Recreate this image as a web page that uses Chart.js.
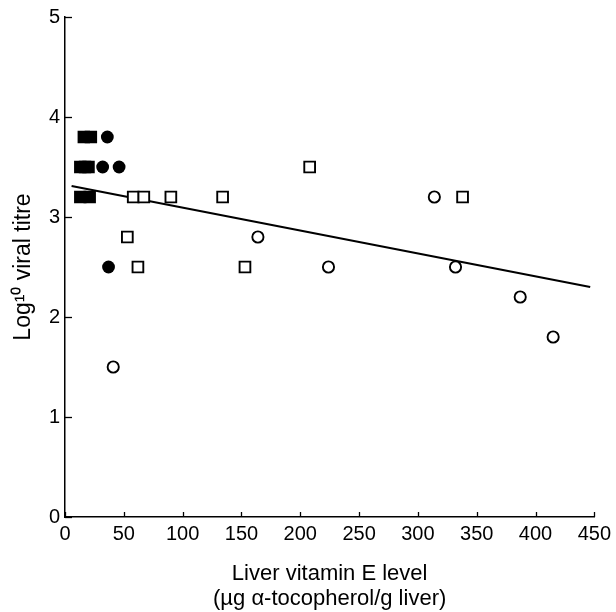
<!DOCTYPE html>
<html>
<head>
<meta charset="utf-8">
<script src="https://cdn.jsdelivr.net/npm/chart.js@4.4.1/dist/chart.umd.min.js"></script>
<style>
  html, body { margin: 0; padding: 0; background: #fff; }
  #wrap { width: 616px; height: 612px; position: relative; }
</style>
</head>
<body>
<div id="wrap"><canvas id="c" width="616" height="612"></canvas></div>
<script>
// ---- Data ----
const filledSquareX = [16, 22, 13, 17, 20, 13, 21];
const filledSquareY = [3.8, 3.8, 3.5, 3.5, 3.5, 3.2, 3.2];
const filledCircleX = [36, 32, 46, 37];
const filledCircleY = [3.8, 3.5, 3.5, 2.5];
const openSquareX = [58, 67, 90, 53, 62, 134, 153, 208, 338];
const openSquareY = [3.2, 3.2, 3.2, 2.8, 2.5, 3.2, 2.5, 3.5, 3.2];
const openCircleX = [41, 164, 224, 314, 332, 387, 415];
const openCircleY = [1.5, 2.8, 2.5, 3.2, 2.5, 2.2, 1.8];
const regressionX = [5.6, 446.5];
const regressionY = [3.31, 2.30];
const xTicks = [0, 50, 100, 150, 200, 250, 300, 350, 400, 450];
const yTicks = [0, 1, 2, 3, 4, 5];

const pts = (xs, ys) => xs.map((x, i) => ({ x: x, y: ys[i] }));

const FONT = "'Liberation Sans', Arial, Helvetica, sans-serif";

const inwardTicks = {
  id: 'inwardTicks',
  afterDraw(chart) {
    const ctx = chart.ctx;
    const xs = chart.scales.x, ys = chart.scales.y;
    const ca = chart.chartArea;
    ctx.save();
    ctx.strokeStyle = '#000';
    ctx.lineWidth = 1.3;
    xTicks.forEach(v => {
      const px = Math.round(xs.getPixelForValue(v)) + 0.5;
      ctx.beginPath();
      ctx.moveTo(px, ca.bottom);
      ctx.lineTo(px, ca.bottom - 5);
      ctx.stroke();
    });
    yTicks.forEach(v => {
      const py = Math.round(ys.getPixelForValue(v)) + 0.5;
      ctx.beginPath();
      ctx.moveTo(ca.left, py);
      ctx.lineTo(ca.left + 7, py);
      ctx.stroke();
    });
    ctx.restore();
  }
};

new Chart(document.getElementById('c'), {
  type: 'scatter',
  data: {
    datasets: [
      {
        type: 'line',
        data: pts(regressionX, regressionY),
        borderColor: '#000',
        borderWidth: 2.2,
        pointRadius: 0,
        fill: false,
        order: 5
      },
      {
        data: pts(openSquareX, openSquareY),
        pointStyle: 'rect',
        pointRadius: 7.6,
        backgroundColor: '#fff',
        borderColor: '#000',
        borderWidth: 1.9
      },
      {
        data: pts(openCircleX, openCircleY),
        pointStyle: 'circle',
        pointRadius: 5.6,
        backgroundColor: '#fff',
        borderColor: '#000',
        borderWidth: 1.9
      },
      {
        data: pts(filledSquareX, filledSquareY),
        pointStyle: 'rect',
        pointRadius: 8.8,
        backgroundColor: '#000',
        borderColor: '#000',
        borderWidth: 0
      },
      {
        data: pts(filledCircleX, filledCircleY),
        pointStyle: 'circle',
        pointRadius: 6.4,
        backgroundColor: '#000',
        borderColor: '#000',
        borderWidth: 0
      }
    ]
  },
  options: {
    responsive: false,
    animation: false,
    devicePixelRatio: 1,
    layout: { padding: { top: 16, right: 0, left: 0, bottom: 0 } },
    plugins: {
      legend: { display: false },
      tooltip: { enabled: false }
    },
    elements: { point: { hoverRadius: 0 } },
    scales: {
      x: {
        type: 'linear',
        min: 0, max: 450,
        afterBuildTicks: s => { s.ticks = xTicks.map(v => ({ value: v })); },
        afterFit: s => { s.height = 95; },
        ticks: { color: '#000', font: { family: FONT, size: 20 }, padding: 5, maxRotation: 0, autoSkip: false },
        grid: { display: false, drawTicks: false },
        border: { display: true, color: '#000', width: 1.5 },
        title: {
          display: true,
          text: ['Liver vitamin E level', '(µg α-tocopherol/g liver)'],
          color: '#000',
          font: { family: FONT, size: 22, lineHeight: 1.15 },
          padding: { top: 10, bottom: 0 }
        }
      },
      y: {
        type: 'linear',
        min: 0, max: 5,
        afterBuildTicks: s => { s.ticks = yTicks.map(v => ({ value: v })); },
        afterFit: s => { s.width = 65; },
        ticks: { color: '#000', font: { family: FONT, size: 20 }, padding: 5, autoSkip: false },
        grid: { display: false, drawTicks: false },
        border: { display: true, color: '#000', width: 1.5 },
        title: {
          display: true,
          text: 'Log¹⁰ viral titre',
          color: '#000',
          font: { family: FONT, size: 23 },
          padding: { top: 10, bottom: 0 }
        }
      }
    }
  },
  plugins: [inwardTicks]
});
</script>
</body>
</html>
